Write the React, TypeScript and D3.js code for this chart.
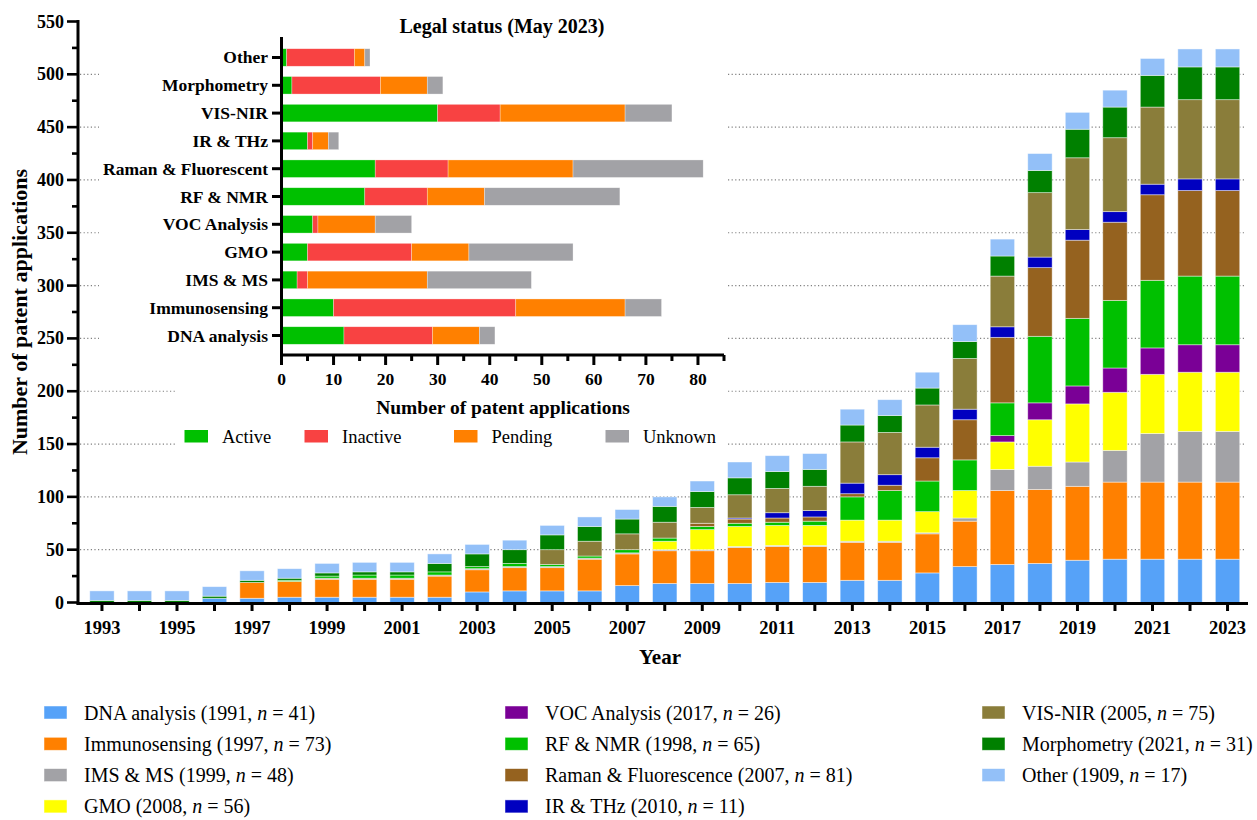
import React from "react";
import * as d3 from "d3";

// ---- Cumulative patent applications per technology (stacked, 1993–2023) ----
const years = [
  1993, 1994, 1995, 1996, 1997, 1998, 1999, 2000, 2001, 2002,
  2003, 2004, 2005, 2006, 2007, 2008, 2009, 2010, 2011, 2012,
  2013, 2014, 2015, 2016, 2017, 2018, 2019, 2020, 2021, 2022, 2023,
];

const seriesNames = [
  "DNA analysis", "Immunosensing", "IMS & MS", "GMO", "VOC Analysis", "RF & NMR",
  "Raman & Fluorescence", "IR & THz", "VIS-NIR", "Morphometry", "Other",
];
const seriesFirstYear = [1991, 1997, 1999, 2008, 2017, 1998, 2007, 2010, 2005, 2021, 1909];
const seriesTotals = [41, 73, 48, 56, 26, 65, 81, 11, 75, 31, 17];

const dnaAnalysis = [0, 0, 0, 4, 4, 5, 5, 5, 5, 5, 10, 11, 11, 11, 16, 18, 18, 18, 19, 19, 21, 21, 28, 34, 36, 37, 40, 41, 41, 41, 41];
const immunosensing = [0, 0, 0, 0, 15, 15, 17, 17, 17, 20, 21, 22, 22, 30, 30, 31, 31, 34, 34, 34, 36, 36, 37, 43, 70, 70, 70, 73, 73, 73, 73];
const imsMs = [0, 0, 0, 0, 0, 0, 1, 1, 1, 1, 1, 1, 1, 1, 1, 1, 1, 1, 1, 1, 1, 1, 1, 3, 20, 22, 23, 30, 46, 48, 48];
const gmo = [0, 0, 0, 0, 0, 0, 0, 0, 0, 0, 0, 0, 0, 0, 0, 8, 19, 19, 19, 19, 20, 20, 20, 26, 26, 44, 55, 55, 56, 56, 56];
const vocAnalysis = [0, 0, 0, 0, 0, 0, 0, 0, 0, 0, 0, 0, 0, 0, 0, 0, 0, 0, 0, 0, 0, 0, 0, 0, 6, 16, 17, 23, 25, 26, 26];
const rfNmr = [0, 0, 0, 0, 0, 1, 2, 3, 3, 3, 2, 3, 2, 2, 3, 3, 3, 3, 3, 4, 22, 28, 29, 29, 31, 63, 64, 64, 64, 65, 65];
const ramanFluorescence = [0, 0, 0, 0, 0, 0, 0, 0, 0, 0, 0, 0, 0, 0, 0, 0, 3, 4, 4, 4, 3, 5, 22, 38, 62, 65, 74, 74, 81, 81, 81];
const irThz = [0, 0, 0, 0, 0, 0, 0, 0, 0, 0, 0, 0, 0, 0, 0, 0, 0, 1, 5, 6, 10, 10, 10, 10, 10, 10, 10, 10, 10, 11, 11];
const visNir = [0, 0, 0, 0, 0, 0, 0, 0, 0, 0, 0, 0, 14, 14, 15, 15, 15, 22, 23, 23, 39, 40, 40, 48, 48, 61, 68, 70, 73, 75, 75];
const morphometry = [2, 2, 2, 2, 2, 2, 3, 3, 3, 8, 12, 13, 14, 14, 14, 15, 15, 16, 16, 16, 16, 16, 16, 16, 19, 21, 27, 29, 30, 31, 31];
const other = [9, 9, 9, 9, 9, 9, 9, 9, 9, 9, 9, 9, 9, 9, 9, 9, 10, 15, 15, 15, 15, 15, 15, 16, 16, 16, 16, 16, 16, 17, 17];

const seriesValues = [
  dnaAnalysis, immunosensing, imsMs, gmo, vocAnalysis, rfNmr,
  ramanFluorescence, irThz, visNir, morphometry, other,
];

const yTicks = [0, 50, 100, 150, 200, 250, 300, 350, 400, 450, 500, 550];

// ---- Legal status (May 2023) ----
const legalCategories = [
  "DNA analysis", "Immunosensing", "IMS & MS", "GMO", "VOC Analysis", "RF & NMR",
  "Raman & Fluorescent", "IR & THz", "VIS-NIR", "Morphometry", "Other",
];
const statusNames = ["Active", "Inactive", "Pending", "Unknown"];
const activeCounts = [12, 10, 3, 5, 6, 16, 18, 5, 30, 2, 1];
const inactiveCounts = [17, 35, 2, 20, 1, 12, 14, 1, 12, 17, 13];
const pendingCounts = [9, 21, 23, 11, 11, 11, 24, 3, 24, 9, 2];
const unknownCounts = [3, 7, 20, 20, 7, 26, 25, 2, 9, 3, 1];
const legalTicks = [0, 10, 20, 30, 40, 50, 60, 70, 80];

const seriesColors = [
  "#56A2F8", "#FF8000", "#A2A2A6", "#FFFF00", "#7A0096", "#00C000",
  "#95621F", "#0000C0", "#8A7D3A", "#008000", "#93C0F8",
];
const statusColors = ["#00C000", "#F84242", "#FF8000", "#A2A2A6"];

const FONT = "'Liberation Serif', 'Times New Roman', serif";

export default function App() {
  const W = 1257;
  const H = 820;

  // main chart scales
  const y = d3.scaleLinear().domain([0, 550]).range([602.5, 21.5]);
  const x = d3
    .scaleBand<number>()
    .domain(years)
    .range([83.2, 1246.3])
    .paddingInner(0.35)
    .paddingOuter(0.175);

  const rows = years.map((yr, i) => {
    const r: Record<string, number> = { year: yr };
    seriesNames.forEach((n, k) => (r[n] = seriesValues[k][i]));
    return r;
  });
  const stacked = d3.stack<Record<string, number>>().keys(seriesNames)(rows);

  // inset scales
  const ix = d3.scaleLinear().domain([0, 85]).range([281.5, 724]);
  const iy = d3
    .scaleBand<string>()
    .domain([...legalCategories].reverse())
    .range([38, 355])
    .paddingInner(0.37)
    .paddingOuter(0.386);
  const legalRows = legalCategories.map((c, i) => ({
    cat: c,
    Active: activeCounts[i],
    Inactive: inactiveCounts[i],
    Pending: pendingCounts[i],
    Unknown: unknownCounts[i],
  })) as any[];
  const legalStack = d3.stack<any>().keys(statusNames)(legalRows);

  const minorY = d3.range(0, 551, 25);
  const insetMinor = d3.range(0, 86, 5);

  return (
    <svg
      width={W}
      height={H}
      viewBox={`0 0 ${W} ${H}`}
      style={{ position: "absolute", left: 0, top: 0, display: "block", background: "#fff" }}
      fontFamily={FONT}
    >
      {/* gridlines */}
      {yTicks
        .filter((v) => v > 0 && v < 550)
        .map((v) => (
          <line
            key={"g" + v}
            x1={80}
            x2={1246}
            y1={y(v)}
            y2={y(v)}
            stroke="#808080"
            strokeWidth={1.2}
            strokeDasharray="1.2 2.4"
          />
        ))}

      {/* inset panel background */}
      <rect x={99} y={26} width={629} height={336} fill="#fff" />
      <rect x={175} y={360} width={553} height={100} fill="#fff" />

      {/* stacked bars */}
      {stacked.map((layer, k) => (
        <g key={layer.key} fill={seriesColors[k]}>
          {layer.map((d, i) =>
            d[1] - d[0] > 0 ? (
              <rect
                key={i}
                x={x(years[i])}
                width={x.bandwidth()}
                y={y(d[1])}
                height={y(d[0]) - y(d[1])}
                stroke="#ffffff"
                strokeOpacity={0.55}
                strokeWidth={0.8}
              />
            ) : null
          )}
        </g>
      ))}

      {/* y axis */}
      <line x1={78} x2={78} y1={y(550) - 1.5} y2={y(0) + 2} stroke="#000" strokeWidth={3} />
      {minorY.map((v) => (
        <line
          key={"yt" + v}
          x1={v % 50 === 0 ? 67 : 72}
          x2={78}
          y1={y(v)}
          y2={y(v)}
          stroke="#000"
          strokeWidth={2.6}
        />
      ))}
      {yTicks.map((v) => (
        <text
          key={"yl" + v}
          x={64}
          y={y(v)}
          textAnchor="end"
          dominantBaseline="central"
          fontSize={18}
          fontWeight="bold"
        >
          {v}
        </text>
      ))}
      <text
        transform={`translate(19, 312) rotate(-90)`}
        textAnchor="middle"
        dominantBaseline="central"
        fontSize={22}
        fontWeight="bold"
      >
        Number of patent applications
      </text>

      {/* x axis */}
      <line x1={76.5} x2={1248} y1={603.5} y2={603.5} stroke="#000" strokeWidth={3} />
      {years.map((yr) => {
        const cx = (x(yr) as number) + x.bandwidth() / 2;
        return (
          <g key={"xt" + yr}>
            <line x1={cx} x2={cx} y1={603} y2={611} stroke="#000" strokeWidth={3} />
            {yr % 2 === 1 ? (
              <text
                x={cx}
                y={628}
                textAnchor="middle"
                dominantBaseline="central"
                fontSize={18.5}
                fontWeight="bold"
              >
                {yr}
              </text>
            ) : null}
          </g>
        );
      })}
      <text x={660} y={657} textAnchor="middle" dominantBaseline="central" fontSize={21} fontWeight="bold">
        Year
      </text>

      {/* ---- inset: legal status ---- */}
      <text x={502} y={26} textAnchor="middle" dominantBaseline="central" fontSize={20} fontWeight="bold">
        Legal status (May 2023)
      </text>
      {legalStack.map((layer, k) => (
        <g key={layer.key} fill={statusColors[k]}>
          {layer.map((d, i) =>
            d[1] - d[0] > 0 ? (
              <rect
                key={i}
                x={ix(d[0])}
                width={ix(d[1]) - ix(d[0])}
                y={iy(legalCategories[i])}
                height={iy.bandwidth()}
                stroke="#ffffff"
                strokeOpacity={0.5}
                strokeWidth={0.6}
              />
            ) : null
          )}
        </g>
      ))}
      <line x1={281.5} x2={281.5} y1={37} y2={356.5} stroke="#000" strokeWidth={3} />
      {legalCategories.map((c) => {
        const cy = (iy(c) as number) + iy.bandwidth() / 2;
        return (
          <g key={"it" + c}>
            <line x1={272} x2={281.5} y1={cy} y2={cy} stroke="#000" strokeWidth={3} />
            <text x={268} y={cy} textAnchor="end" dominantBaseline="central" fontSize={17.5} fontWeight="bold">
              {c}
            </text>
          </g>
        );
      })}
      <line x1={280} x2={724} y1={355} y2={355} stroke="#000" strokeWidth={3} />
      {insetMinor.map((v) => (
        <line
          key={"ixt" + v}
          x1={ix(v)}
          x2={ix(v)}
          y1={355}
          y2={v % 10 === 0 ? 365 : 361}
          stroke="#000"
          strokeWidth={3}
        />
      ))}
      {legalTicks.map((v) => (
        <text
          key={"ixl" + v}
          x={ix(v)}
          y={379}
          textAnchor="middle"
          dominantBaseline="central"
          fontSize={17.5}
          fontWeight="bold"
        >
          {v}
        </text>
      ))}
      <text x={503} y={407} textAnchor="middle" dominantBaseline="central" fontSize={19.5} fontWeight="bold">
        Number of patent applications
      </text>
      {statusNames.map((s, k) => {
        const sx = [184.5, 304.5, 454, 605.5][k];
        return (
          <g key={"il" + s}>
            <rect x={sx} y={430} width={23.5} height={12.5} fill={statusColors[k]} />
            <text x={sx + 37.5} y={436.5} dominantBaseline="central" fontSize={18.5}>
              {s}
            </text>
          </g>
        );
      })}

      {/* ---- main legend ---- */}
      {seriesNames.map((name, k) => {
        const col = k < 4 ? 0 : k < 8 ? 1 : 2;
        const row = k < 4 ? k : k < 8 ? k - 4 : k - 8;
        const lx = [44, 505, 982][col];
        const ly = 712.5 + row * 31.3;
        return (
          <g key={"lg" + name}>
            <rect
              x={lx}
              y={ly - 6.5}
              width={23}
              height={13}
              fill={seriesColors[k]}
              stroke="#ffffff"
              strokeOpacity={0.6}
              strokeWidth={0.8}
            />
            <text x={lx + 40} y={ly} dominantBaseline="central" fontSize={20}>
              {`${name} (${seriesFirstYear[k]}, `}
              <tspan fontStyle="italic">n</tspan>
              {` = ${seriesTotals[k]})`}
            </text>
          </g>
        );
      })}
    </svg>
  );
}
